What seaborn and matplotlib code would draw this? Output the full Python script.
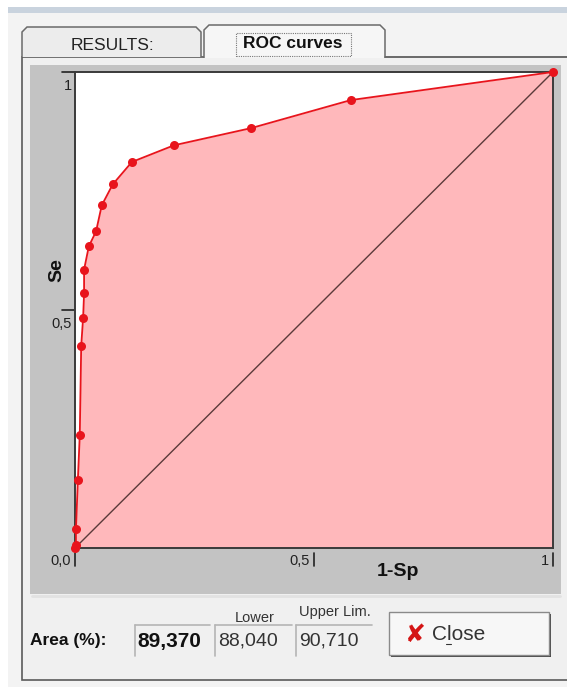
import numpy as np
import pandas as pd
import matplotlib
matplotlib.use('Agg')
import matplotlib.pyplot as plt
import seaborn as sns
from matplotlib.patches import Rectangle, Polygon
from matplotlib.lines import Line2D

# ROC points
fpr = [0.0, 0.002, 0.002, 0.006, 0.010, 0.013, 0.017, 0.019, 0.019, 0.029,
       0.044, 0.056, 0.079, 0.119, 0.207, 0.368, 0.577, 1.0]
tpr = [0.0, 0.006, 0.040, 0.143, 0.238, 0.425, 0.484, 0.535, 0.585, 0.634,
       0.665, 0.720, 0.764, 0.811, 0.846, 0.882, 0.941, 1.0]
diag = [0.0, 1.0]

tab_labels = ['RESULTS:', 'ROC curves']
area_label = 'Area (%):'
area_value = '89,370'
lower_value = '88,040'
upper_value = '90,710'

W, H = 567, 687
sns.set_theme(style='white')
plt.rcParams['font.family'] = ['Liberation Sans', 'DejaVu Sans']

fig = plt.figure(figsize=(W / 100, H / 100), dpi=100, facecolor='white')


def fx(x):
    return x / W


def fy(y):
    return 1 - y / H


def rect(x0, y0, x1, y1, **kw):
    kw.setdefault('zorder', 0)
    r = Rectangle((fx(x0), fy(y1)), fx(x1) - fx(x0), fy(y0) - fy(y1),
                  transform=fig.transFigure, **kw)
    fig.add_artist(r)
    return r


def line(xs, ys, **kw):
    kw.setdefault('zorder', 1)
    fig.add_artist(Line2D([fx(v) for v in xs], [fy(v) for v in ys],
                          transform=fig.transFigure, **kw))


def text(x, y, s, **kw):
    fig.text(fx(x), fy(y), s, **kw)


# window strip at the top
rect(8, 7, 567, 13, facecolor='#c9d3de', edgecolor='none')
rect(8, 13, 567, 687, facecolor='#f3f3f3', edgecolor='none')

# dialog body
rect(22, 57, 570, 680, facecolor='#f0f0f0', edgecolor='#5a5a5a', linewidth=1.2)

# tabs
tab1 = Polygon([(fx(22), fy(57)), (fx(22), fy(32)), (fx(27), fy(27)), (fx(196), fy(27)),
                (fx(201), fy(32)), (fx(201), fy(57))], closed=False, zorder=0,
               transform=fig.transFigure, facecolor='#ececec', edgecolor='#6a6a6a', linewidth=1.1)
fig.add_artist(tab1)
tab2 = Polygon([(fx(204), fy(58)), (fx(204), fy(30)), (fx(209), fy(25)), (fx(380), fy(25)),
                (fx(385), fy(30)), (fx(385), fy(58))], closed=False, zorder=0,
               transform=fig.transFigure, facecolor='#f6f6f6', edgecolor='#6a6a6a', linewidth=1.1)
fig.add_artist(tab2)
line([385, 570], [57, 57], color='#6a6a6a', linewidth=1.1)
text(112, 45, tab_labels[0], ha='center', va='center', fontsize=12.5, color='#222222')
rect(236, 33, 351, 56, facecolor='none', edgecolor='#777777', linewidth=0.8,
     linestyle=(0, (1, 1)), zorder=1)
text(293, 44, tab_labels[1], ha='center', va='center', fontsize=12.5,
     fontweight='bold', color='#111111')

# gray chart panel
rect(30, 65, 561, 594, facecolor='#c3c3c3', edgecolor='none')
line([32, 560], [596, 596], color='#e2e2e2', linewidth=2)

# chart axes
ax = fig.add_axes([fx(75), fy(548), fx(553) - fx(75), fy(72) - fy(548)])
ax.set_zorder(5)
ax.set_facecolor('white')
ax.fill_between(fpr, tpr, 0, color='#ffb8bb', linewidth=0)
sns.lineplot(x=diag, y=diag, ax=ax, color='#5b3a3a', linewidth=1.0,
             estimator=None, sort=False)
sns.lineplot(x=fpr, y=tpr, ax=ax, color='#e8141c', linewidth=1.3, marker='o',
             markersize=6.5, markeredgewidth=0, estimator=None, sort=False,
             clip_on=False, zorder=4)
ax.set_xlim(0, 1)
ax.set_ylim(0, 1)
ax.set_xticks([])
ax.set_yticks([])
ax.set_xlabel('')
ax.set_ylabel('')
for sp in ax.spines.values():
    sp.set_color('#3a3a3a')
    sp.set_linewidth(1.4)
    sp.set_visible(True)

# tick marks and tick labels
for xv, lab in zip([0.0, 0.5, 1.0], ['0,0', '0,5', '1']):
    px = 75 + xv * 478
    line([px, px], [553, 566], color='#222222', linewidth=1.2)
    text(px - 4, 561, lab, ha='right', va='center', fontsize=10.5, color='#222222')
for yv, lab in zip([1.0, 0.5], ['1', '0,5']):
    py = 548 - yv * 476
    line([62, 75], [py, py], color='#222222', linewidth=1.2)
    text(72, py + 14, lab, ha='right', va='center', fontsize=10.5, color='#222222')

text(57, 270, 'Se', ha='center', va='center', rotation=90, fontsize=14,
     fontweight='bold', color='#111111')
text(398, 572, '1-Sp', ha='center', va='center', fontsize=14,
     fontweight='bold', color='#111111')

# bottom area row
text(30, 641, area_label, ha='left', va='center', fontsize=12.5, fontweight='bold', color='#111111')
for x0, x1 in [(135, 210), (215, 292), (296, 372)]:
    line([x0, x1], [625, 625], color='#b5b5b5', linewidth=1.2)
    line([x0, x0], [625, 656], color='#b5b5b5', linewidth=1.2)
text(137, 641, area_value, ha='left', va='center', fontsize=15, fontweight='bold', color='#111111')
text(218, 641, lower_value, ha='left', va='center', fontsize=14, color='#333333')
text(299, 641, upper_value, ha='left', va='center', fontsize=14, color='#333333')
text(255, 618, 'Lower', ha='center', va='center', fontsize=10.5, color='#333333')
text(335, 612, 'Upper Lim.', ha='center', va='center', fontsize=10.5, color='#333333')

# close button
rect(391, 614, 551, 657, facecolor='#4a4a4a', edgecolor='none')
rect(389, 612, 549, 655, facecolor='#f7f7f7', edgecolor='#8a8a8a', linewidth=1.0)
text(415, 635, '\u2718', ha='center', va='center', fontsize=18, color='#d41515',
     family=['DejaVu Sans'])
text(432, 635, 'Close', ha='left', va='center', fontsize=15, color='#333333')
line([446, 451], [644, 644], color='#333333', linewidth=0.8)

fig.savefig('out.png', dpi=100, facecolor='white')
